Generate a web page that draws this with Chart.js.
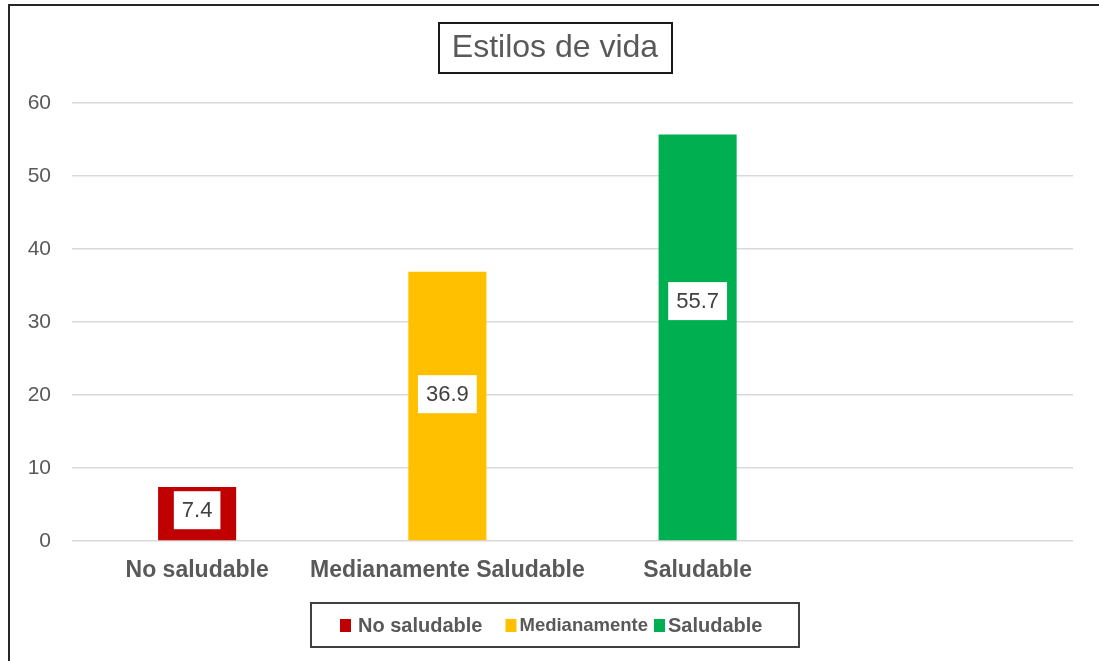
<!DOCTYPE html>
<html>
<head>
<meta charset="utf-8">
<script src="https://cdn.jsdelivr.net/npm/chart.js@4.4.1/dist/chart.umd.min.js"></script>
<style>
  html, body { margin: 0; padding: 0; background: #ffffff; }
  #wrap { width: 1099px; height: 661px; position: relative; }
</style>
</head>
<body>
<div id="wrap"><canvas id="c" width="1099" height="661"></canvas></div>
<script>
// ---- data ----
const categories = ["No saludable", "Medianamente Saludable", "Saludable", ""];
const seriesNames = ["No saludable", "Medianamente", "Saludable"];
const noSaludable = [7.4, null, null, null];
const medianamente = [null, 36.9, null, null];
const saludable = [null, null, 55.7, null];
const yTicks = [0, 10, 20, 30, 40, 50, 60];
const titleText = "Estilos de vida";

// ---- styles ----
const colors = ["#C00000", "#FFC000", "#00B050"];
const textGray = "#595959";
const FONT = "'Liberation Sans', Arial, sans-serif";
const labelFractions = [0.57, 0.545, 0.59];

const frame = {
  id: "frame",
  beforeDraw(chart) {
    const ctx = chart.ctx;
    ctx.save();
    ctx.fillStyle = "#ffffff";
    ctx.fillRect(0, 0, chart.width, chart.height);
    ctx.strokeStyle = "#262626";
    ctx.lineWidth = 2;
    ctx.beginPath();
    ctx.moveTo(9, chart.height);
    ctx.lineTo(9, 5);
    ctx.lineTo(chart.width, 5);
    ctx.stroke();
    ctx.restore();
  },
  afterDraw(chart) {
    const ctx = chart.ctx;
    ctx.save();
    // title box
    ctx.font = "32px " + FONT;
    ctx.fillStyle = textGray;
    ctx.textAlign = "center";
    ctx.textBaseline = "middle";
    ctx.fillText(titleText, 555, 48);
    ctx.strokeStyle = "#1a1a1a";
    ctx.lineWidth = 2;
    ctx.strokeRect(439, 23, 233, 50);

    // legend box
    ctx.strokeStyle = "#404040";
    ctx.lineWidth = 2;
    ctx.strokeRect(311, 603, 488, 44);
    const fonts = ["bold 20px " + FONT, "bold 18.5px " + FONT, "bold 20px " + FONT];
    const gaps = [7, 3, 3];
    const after = [23, 6, 0];
    let x = 340;
    const ym = 625;
    chart.data.datasets.forEach((ds, i) => {
      ctx.fillStyle = ds.backgroundColor;
      ctx.fillRect(x, ym - 6, 11, 13);
      x += 11 + gaps[i];
      ctx.font = fonts[i];
      ctx.fillStyle = textGray;
      ctx.textAlign = "left";
      ctx.textBaseline = "middle";
      ctx.fillText(ds.label, x, ym + 1);
      x += ctx.measureText(ds.label).width + after[i];
    });
    ctx.restore();
  },
  afterDatasetsDraw(chart) {
    const ctx = chart.ctx;
    const yScale = chart.scales.y;
    ctx.save();
    ctx.font = "22px " + FONT;
    ctx.textAlign = "center";
    ctx.textBaseline = "middle";
    chart.data.datasets.forEach((ds, i) => {
      const meta = chart.getDatasetMeta(i);
      ds.data.forEach((v, j) => {
        if (v === null) return;
        const el = meta.data[j];
        const y = yScale.getPixelForValue(v * labelFractions[i]);
        const txt = v.toFixed(1);
        const w = ctx.measureText(txt).width + 16;
        const h = 38;
        ctx.fillStyle = "#ffffff";
        ctx.fillRect(el.x - w / 2, y - h / 2, w, h);
        ctx.fillStyle = "#404040";
        ctx.fillText(txt, el.x, y + 1);
      });
    });
    ctx.restore();
  }
};

new Chart(document.getElementById("c"), {
  type: "bar",
  data: {
    labels: categories,
    datasets: [
      { label: seriesNames[0], data: noSaludable, backgroundColor: colors[0] },
      { label: seriesNames[1], data: medianamente, backgroundColor: colors[1] },
      { label: seriesNames[2], data: saludable, backgroundColor: colors[2] }
    ]
  },
  options: {
    responsive: false,
    animation: false,
    devicePixelRatio: 1,
    layout: { padding: { left: 0, right: 26, top: 103, bottom: 0 } },
    datasets: { bar: { grouped: false, categoryPercentage: 1, barPercentage: 0.312 } },
    plugins: {
      legend: { display: false },
      title: { display: false },
      tooltip: { enabled: false }
    },
    scales: {
      x: {
        grid: { display: false },
        border: { display: false },
        ticks: { color: textGray, font: { family: FONT, size: 23, weight: "bold" }, padding: 8, maxRotation: 0, autoSkip: false },
        afterFit(s) { s.height = 120; }
      },
      y: {
        min: 0, max: 60,
        afterBuildTicks(s) { s.ticks = yTicks.map(v => ({ value: v })); },
        grid: { color: "#d9d9d9", lineWidth: 1.5, drawTicks: false },
        border: { display: false },
        ticks: { color: textGray, font: { family: FONT, size: 21 }, padding: 21 },
        afterFit(s) { s.width = 72; }
      }
    }
  },
  plugins: [frame]
});
</script>
</body>
</html>
